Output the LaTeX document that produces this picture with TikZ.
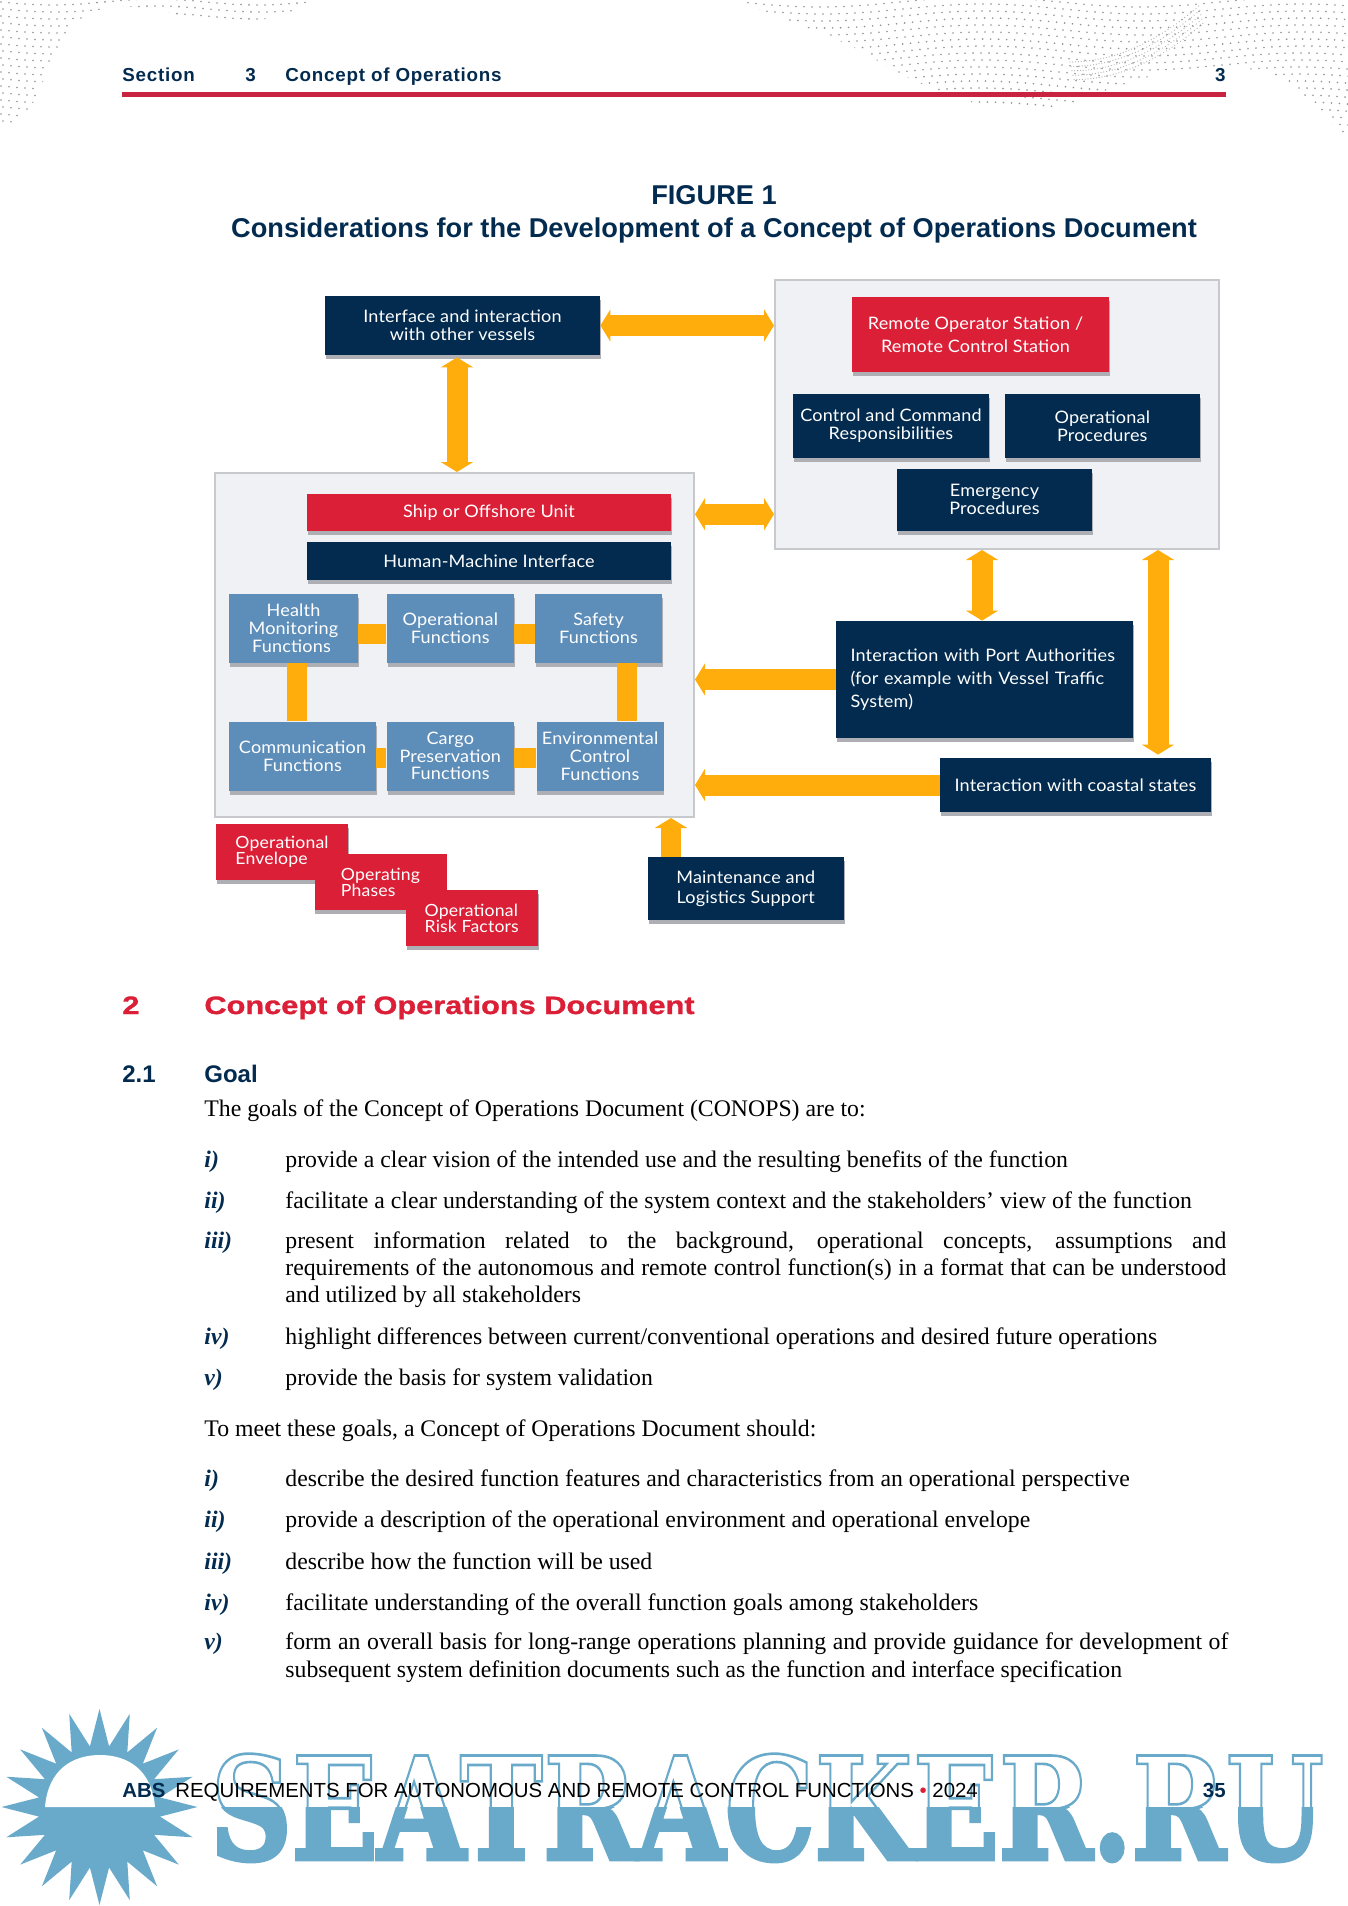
\documentclass[tikz,border=0pt]{standalone}
\usepackage{fontspec}
\setmainfont{Liberation Serif}
\newfontfamily\diagfont[FakeStretch=1.05, LetterSpace=1]{Lato}
\newfontfamily\headfont[FakeStretch=1.22, BoldFeatures={FakeBold=1.2}]{Liberation Sans}
\newfontfamily\hdrfont[LetterSpace=4]{Liberation Sans}
\newfontfamily\arialfont{Liberation Sans}
\newfontfamily\wmfont{DejaVu Serif}
\usetikzlibrary{arrows.meta, positioning, calc, shadows, shapes.geometric}
\definecolor{navyc}{HTML}{022B4F}
\definecolor{redc}{HTML}{DA1F37}
\definecolor{rulec}{HTML}{C8243F}
\definecolor{fnc}{HTML}{5D8DB9}
\definecolor{orangec}{HTML}{FFAD0D}
\definecolor{panelc}{HTML}{F0F1F4}
\definecolor{panelb}{HTML}{C8C9CC}
\definecolor{shadowc}{HTML}{ADAFB5}
\definecolor{wmc}{HTML}{69AACB}
\tikzset{
  blk/.style={rectangle, inner sep=0pt, align=center, text=white,
              font=\diagfont\fontsize{8.6}{8.9}\selectfont,
              drop shadow={shadow xshift=0.4pt, shadow yshift=-2.2pt, fill=shadowc, opacity=1}},
  navyb/.style={blk, fill=navyc},
  redb/.style={blk, fill=redc},
  fnb/.style={blk, fill=fnc, minimum height=34.5pt},
  riskb/.style={redb, minimum width=66pt, minimum height=28pt, align=left,
                font=\diagfont\fontsize{8.4}{8}\selectfont},
  panel/.style={rectangle, draw=panelb, line width=1pt, fill=panelc, inner sep=0pt},
  link/.style={orangec, line width=10pt},
  arr/.style={-{Triangle[length=5pt,width=16pt]}, orangec, line width=10.5pt},
  biarr/.style={{Triangle[length=5pt,width=16pt]}-{Triangle[length=5pt,width=16pt]}, orangec, line width=10.5pt},
  bodytxt/.style={anchor=base west, inner sep=0pt, text=black,
                  font=\fontsize{11.88}{13.5}\selectfont},
  itemlbl/.style={anchor=base west, inner sep=0pt, text=navyc,
                  font=\fontsize{11.88}{13.5}\selectfont\bfseries\itshape},
  hdrtxt/.style={anchor=base west, inner sep=0pt, text=navyc,
                 font=\hdrfont\fontsize{9.4}{11}\selectfont\bfseries},
  wave/.style={fill=black!42},
  wmtxt/.style={anchor=base west, inner sep=0pt, text=wmc, xscale=0.795, transform shape,
                font=\wmfont\fontsize{71}{80}\selectfont\bfseries},
}
\begin{document}
\begin{tikzpicture}[x=0.5pt, y=-0.5pt]

  \useasboundingbox (0,0) rectangle (1348,1906);

  \begin{scope}
    \clip (743,0) -- (743,4) .. controls (800,25) and (830,35) .. (865,53)
      .. controls (900,75) and (920,85) .. (948,93) .. controls (975,105) and (990,108) .. (1010,108)
      .. controls (1040,108) and (1060,108) .. (1072,103) .. controls (1090,96) and (1100,92) .. (1113,88)
      .. controls (1150,75) and (1180,68) .. (1216,68) .. controls (1250,68) and (1265,70) .. (1278,77)
      .. controls (1300,90) and (1310,100) .. (1320,110) -- (1348,140) -- (1348,0) -- cycle;
    \foreach \i in {0,...,76}
      \foreach \j in {0,...,20}
        \fill[wave] ({740+8*\i+2*mod(\j,2)+3*sin(\j*20)},{2+7*\j+5*sin(\i*9)}) circle (0.9);
    \foreach \i in {0,...,46}
      \foreach \j in {0,...,4}
        \fill[black!32] ({1070+2.8*\i+\j},{72-56*(\i/46)^2-10+4.4*\j}) circle (0.6);
  \end{scope}

  \begin{scope}
    \clip (0,0) -- (0,127) -- (13,127) .. controls (25,115) and (30,105) .. (33,103)
      .. controls (42,85) and (45,75) .. (50,67) .. controls (58,50) and (60,40) .. (67,33)
      .. controls (80,15) and (95,10) .. (107,8) .. controls (130,5) and (150,8) .. (167,12)
      .. controls (200,22) and (225,25) .. (247,22) .. controls (270,20) and (295,10) .. (310,5) -- (310,0) -- cycle;
    \foreach \i in {0,...,39}
      \foreach \j in {0,...,18}
        \fill[wave] ({1+8*\i+2*mod(\j,2)},{2+7*\j+3*sin(\i*14)}) circle (0.9);
  \end{scope}

  \node[hdrtxt] (secword) at (122,81) {Section};
  \node[hdrtxt] (secnum) at (245,81) {3};
  \node[hdrtxt] (sectitle) at (285,81) {Concept of Operations};
  \node[hdrtxt, anchor=base east] (secpage) at (1226,81) {3};
  \fill[rulec] (122,92) rectangle (1226,97);

  \node[inner sep=0pt, text=navyc, font=\arialfont\fontsize{13.6}{16}\selectfont\bfseries] (figno) at (714,195) {FIGURE 1};
  \node[inner sep=0pt, text=navyc, font=\arialfont\fontsize{13.6}{16}\selectfont\bfseries] (figtitle) at (714,230)
    {Considerations for the Development of a Concept of Operations Document};

  \node[panel, minimum width=222pt, minimum height=134.5pt] (rpanel) at (997,414.5) {};
  \node[panel, minimum width=239.5pt, minimum height=172pt] (lpanel) at (454.5,645) {};

  \node[navyb, minimum width=137.5pt, minimum height=29.5pt] (iface) at (462.5,325.5)
    {Interface and interaction\\with other vessels};

  \node[redb, minimum width=128.5pt, minimum height=37.5pt, font=\diagfont\fontsize{8.6}{11.5}\selectfont] (remote) at (980.5,334.5)
    {Remote Operator Station /\hspace*{5pt}\\Remote Control Station\hspace*{5pt}};
  \node[navyb, minimum width=98pt, minimum height=32pt] (ccr) at (891,426)
    {Control and Command\\Responsibilities};
  \node[navyb, minimum width=97.5pt, minimum height=32pt, right=7.5pt of ccr] (opproc)
    {Operational\\Procedures};
  \node[navyb, minimum width=97.5pt, minimum height=31.25pt] (emerg) at (994.5,499.75)
    {Emergency\\Procedures};

  \node[redb, minimum width=182pt, minimum height=18.75pt] (ship) at (489,512.25)
    {Ship or Offshore Unit};
  \node[navyb, minimum width=182pt, minimum height=19pt] (hmi) at (489,561)
    {Human-Machine Interface};

  \node[fnb, minimum width=64.5pt] (health) at (293.5,628.5)
    {Health\\Monitoring\\Functions\hspace*{2pt}};
  \node[fnb, minimum width=63.5pt, right=14pt of health] (opfn)
    {Operational\\Functions};
  \node[fnb, minimum width=63.5pt, right=10.25pt of opfn] (safety)
    {Safety\\Functions};
  \node[fnb, minimum width=73.5pt] (comm) at (302.5,756)
    {Communication\\Functions};
  \node[fnb, minimum width=63.5pt, right=5pt of comm] (cargo)
    {Cargo\\Preservation\\Functions};
  \node[fnb, minimum width=63.5pt, right=11pt of cargo] (env)
    {Environmental\\Control\\Functions};

  \node[navyb, minimum width=148.5pt, minimum height=58.5pt, text width=134pt, align=left,
        font=\diagfont\fontsize{8.6}{11.5}\selectfont] (port) at (984.5,679.5)
    {Interaction with Port Authorities\\(for example with Vessel Traffic\\System)};
  \node[navyb, minimum width=135.5pt, minimum height=27pt] (coastal) at (1075.5,785)
    {Interaction with coastal states};
  \node[navyb, minimum width=98pt, minimum height=31.5pt, font=\diagfont\fontsize{8.6}{9.8}\selectfont] (maint) at (745.75,888.5)
    {Maintenance and\\Logistics Support};

  \node[riskb] (oenv) at (282,851.5) {Operational\\Envelope};
  \node[riskb] (phases) at (380.5,882) {Operating\\Phases};
  \node[riskb] (risk) at (471.75,918) {Operational\\Risk Factors};

  \draw[biarr] (iface.east) -- (rpanel.west |- iface.east);
  \draw[biarr] ([xshift=-2.75pt,yshift=-1pt]iface.south) -- ([xshift=-2.75pt]iface.south |- lpanel.north);
  \draw[biarr] ([yshift=-1pt]lpanel.east |- ship.east) -- ([yshift=-1pt]rpanel.west |- ship.east);
  \draw[biarr] ([xshift=-1.25pt]port.north |- rpanel.south) -- ([xshift=-1.25pt]port.north);
  \draw[biarr] ([xshift=41.25pt]coastal.north |- rpanel.south) -- ([xshift=41.25pt,yshift=1.5pt]coastal.north);
  \draw[arr] (port.west) -- (lpanel.east |- port.west);
  \draw[arr] (coastal.west) -- (lpanel.east |- coastal.west);
  \draw[arr, line width=10pt] ([xshift=-37.4pt]maint.north) -- ([xshift=-37.4pt]maint.north |- lpanel.south);

  \draw[link] ([yshift=-2.5pt]health.east) -- ([yshift=-2.5pt]opfn.west);
  \draw[link] ([yshift=-2.5pt]opfn.east) -- ([yshift=-2.5pt]safety.west);
  \draw[link] ([xshift=1.5pt]health.south) -- ([xshift=1.5pt]health.south |- comm.north);
  \draw[link] ([xshift=14.25pt]safety.south) -- ([xshift=14.25pt]safety.south |- env.north);
  \draw[link] ([yshift=-1pt]comm.east) -- ([yshift=-1pt]cargo.west);
  \draw[link] ([yshift=-1pt]cargo.east) -- ([yshift=-1pt]env.west);

  \node[anchor=base west, inner sep=0pt, text=redc, font=\headfont\fontsize{12.6}{15}\selectfont\bfseries] (sec2no) at (122,1014) {2};
  \node[anchor=base west, inner sep=0pt, text=redc, font=\headfont\fontsize{12.6}{15}\selectfont\bfseries] (sec2) at (204,1014) {Concept of Operations Document};
  \node[anchor=base west, inner sep=0pt, text=navyc, font=\arialfont\fontsize{12}{14}\selectfont\bfseries] (sub2no) at (122,1082) {2.1};
  \node[anchor=base west, inner sep=0pt, text=navyc, font=\arialfont\fontsize{12}{14}\selectfont\bfseries] (sub2) at (204,1082) {Goal};

  \node[bodytxt] (intro) at (204,1116) {The goals of the Concept of Operations Document (CONOPS) are to:};
  \foreach \lab/\ypos/\txt in {
    i)/1167/{provide a clear vision of the intended use and the resulting benefits of the function},
    ii)/1208/{facilitate a clear understanding of the system context and the stakeholders’ view of the function},
    iv)/1344/{highlight differences between current/conventional operations and desired future operations},
    v)/1385/{provide the basis for system validation},
    i)/1486/{describe the desired function features and characteristics from an operational perspective},
    ii)/1527/{provide a description of the operational environment and operational envelope},
    iii)/1569/{describe how the function will be used},
    iv)/1610/{facilitate understanding of the overall function goals among stakeholders}}
  {
    \node[itemlbl] at (204,\ypos) {\lab};
    \node[bodytxt] at (285,\ypos) {\txt};
  }
  \node[itemlbl] (iiilab) at (204,1248) {iii)};
  \node[bodytxt] (iiifirst) at (285,1248) {\makebox[470.5pt][s]{present information related to the background, operational concepts, assumptions and}};
  \node[bodytxt] (iiisecond) at (285,1275) {\makebox[470.5pt][s]{requirements of the autonomous and remote control function(s) in a format that can be understood}};
  \node[bodytxt] (iiithird) at (285,1302) {and utilized by all stakeholders};
  \node[bodytxt] (meet) at (204,1436) {To meet these goals, a Concept of Operations Document should:};
  \node[itemlbl] (vlab) at (204,1649) {v)};
  \node[bodytxt] (vfirst) at (285,1649) {\makebox[471.5pt][s]{form an overall basis for long-range operations planning and provide guidance for development of}};
  \node[bodytxt] (vsecond) at (285,1677) {subsequent system definition documents such as the function and interface specification};

  \node[star, star points=20, star point ratio=1.6, fill=wmc, minimum size=98pt, inner sep=0pt] (sun) at (99.5,1807) {};
  \fill[white] (45,1807) .. controls (48,1770) and (72,1755) .. (100,1755) .. controls (128,1755) and (152,1770) .. (155,1807) -- cycle;

  \begin{scope}
    \clip (200,1807) rectangle (1348,1906);
    \node[wmtxt] (wmlow) at (210,1859) {\special{pdf:code 2 Tr 2.4 w}SEATRACKER.RU\special{pdf:code 0 Tr}};
  \end{scope}
  \begin{scope}
    \clip (200,1700) rectangle (1348,1807);
    \node[wmtxt] (wmup) at (210,1859) {\special{pdf:code 1 Tr 1.3 w}SEATRACKER.RU\special{pdf:code 0 Tr}};
  \end{scope}

  \node[anchor=base west, inner sep=0pt, text=navyc, font=\arialfont\fontsize{10.2}{12}\selectfont\bfseries] (absword) at (122,1797) {ABS};
  \node[anchor=base west, inner sep=0pt, text=black, font=\arialfont\fontsize{10.2}{12}\selectfont] (foottxt) at (175,1797)
    {REQUIREMENTS FOR AUTONOMOUS AND REMOTE CONTROL FUNCTIONS {\color{redc}•} 2024};
  \node[anchor=base east, inner sep=0pt, text=navyc, font=\arialfont\fontsize{10.2}{12}\selectfont\bfseries] (pageno) at (1226,1797) {35};

\end{tikzpicture}
\end{document}
